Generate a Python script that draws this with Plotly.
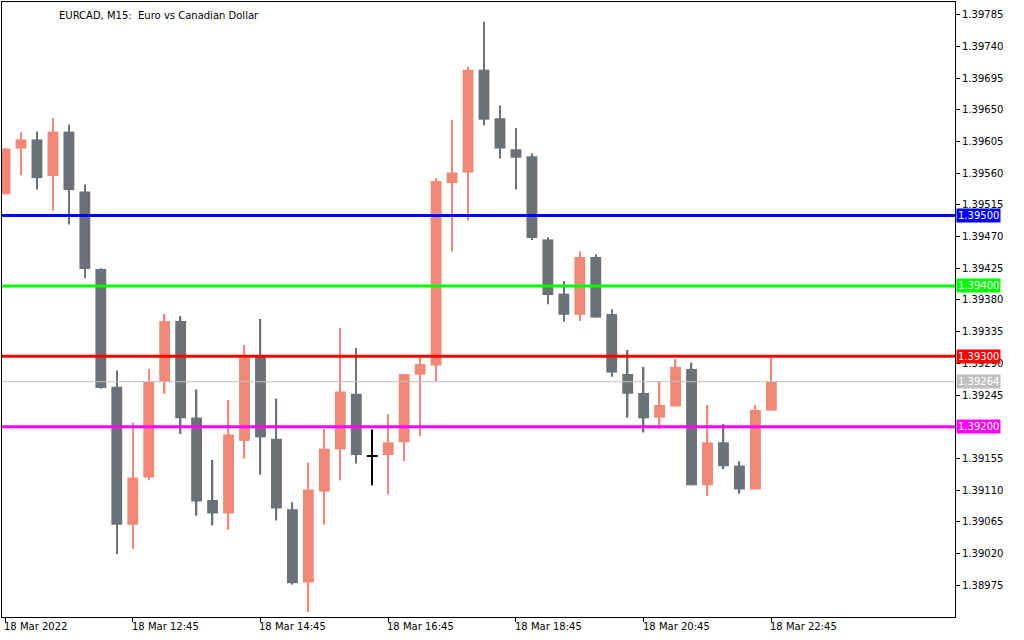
import plotly.graph_objects as go

# EURCAD M15, 18 Mar 2022, 10:45 .. 22:45
opens = [1.39530, 1.39595, 1.39608, 1.39556, 1.39619, 1.39534, 1.39424, 1.39257, 1.39061, 1.39128,
         1.39264, 1.39350, 1.39213, 1.39096, 1.39077, 1.39180, 1.39301, 1.39183, 1.39083, 1.38979,
         1.39108, 1.39168, 1.39247, 1.39158, 1.39160, 1.39178, 1.39274, 1.39287, 1.39546, 1.39561,
         1.39707, 1.39638, 1.39594, 1.39584, 1.39466, 1.39389, 1.39359, 1.39441, 1.39360, 1.39275,
         1.39248, 1.39213, 1.39229, 1.39282, 1.39117, 1.39178, 1.39145, 1.39111, 1.39223]
highs = [1.39595, 1.39618, 1.39619, 1.39638, 1.39629, 1.39544, 1.39425, 1.39280, 1.39206, 1.39282,
         1.39360, 1.39357, 1.39253, 1.39153, 1.39238, 1.39316, 1.39353, 1.39240, 1.39093, 1.39149,
         1.39197, 1.39340, 1.39312, 1.39196, 1.39218, 1.39275, 1.39302, 1.39553, 1.39636, 1.39711,
         1.39775, 1.39656, 1.39624, 1.39588, 1.39469, 1.39407, 1.39449, 1.39445, 1.39367, 1.39309,
         1.39285, 1.39265, 1.39296, 1.39291, 1.39231, 1.39204, 1.39151, 1.39231, 1.39298]
lows = [1.39530, 1.39557, 1.39537, 1.39507, 1.39487, 1.39411, 1.39254, 1.39019, 1.39027, 1.39124,
        1.39247, 1.39190, 1.39074, 1.39060, 1.39054, 1.39155, 1.39132, 1.39067, 1.38976, 1.38937,
        1.39061, 1.39124, 1.39148, 1.39117, 1.39104, 1.39151, 1.39187, 1.39264, 1.39449, 1.39493,
        1.39628, 1.39581, 1.39537, 1.39465, 1.39374, 1.39349, 1.39350, 1.39355, 1.39271, 1.39213,
        1.39192, 1.39197, 1.39229, 1.39117, 1.39102, 1.39140, 1.39105, 1.39111, 1.39223]
closes = [1.39595, 1.39608, 1.39553, 1.39619, 1.39536, 1.39424, 1.39255, 1.39061, 1.39128, 1.39264,
          1.39350, 1.39212, 1.39094, 1.39077, 1.39189, 1.39298, 1.39185, 1.39084, 1.38978, 1.39111,
          1.39169, 1.39250, 1.39160, 1.39158, 1.39178, 1.39275, 1.39289, 1.39549, 1.39561, 1.39707,
          1.39636, 1.39595, 1.39582, 1.39468, 1.39387, 1.39359, 1.39441, 1.39355, 1.39277, 1.39247,
          1.39212, 1.39231, 1.39285, 1.39117, 1.39178, 1.39144, 1.39111, 1.39224, 1.39264]

level_prices = [1.39500, 1.39400, 1.39300, 1.39200]
level_colors = ["#0000FF", "#00FF00", "#FF0000", "#FF00FF"]
last_price = 1.39264

ytick_vals = [1.39785, 1.39740, 1.39695, 1.39650, 1.39605, 1.39560, 1.39515, 1.39470, 1.39425,
              1.39380, 1.39335, 1.39290, 1.39245, 1.39155, 1.39110, 1.39065, 1.39020, 1.38975]
xtick_idx = [0, 8, 16, 24, 32, 40, 48]
xtick_text = ["18 Mar 2022", "18 Mar 12:45", "18 Mar 14:45", "18 Mar 16:45",
              "18 Mar 18:45", "18 Mar 20:45", "18 Mar 22:45"]

UP = "#EE8877"
DOWN = "#6B7178"
FONT = "DejaVu Sans"

idx = list(range(len(opens)))
colors = []
for o, c in zip(opens, closes):
    if abs(c - o) < 0.00002:
        colors.append("#000000")
    elif c > o:
        colors.append(UP)
    else:
        colors.append(DOWN)

body_base = [min(o, c) for o, c in zip(opens, closes)]
body_h = [max(abs(c - o), 0.000012) for o, c in zip(opens, closes)]
wick_h = [h - l for h, l in zip(highs, lows)]

fig = go.Figure()
fig.add_trace(go.Bar(x=idx, y=wick_h, base=lows, width=0.09, marker_color=colors,
                     marker_line_width=0, hoverinfo="skip"))
fig.add_trace(go.Bar(x=idx, y=body_h, base=body_base, width=0.68, marker_color=colors,
                     marker_line_width=0,
                     customdata=list(zip(opens, highs, lows, closes)),
                     hovertemplate="O %{customdata[0]:.5f}<br>H %{customdata[1]:.5f}<br>"
                                   "L %{customdata[2]:.5f}<br>C %{customdata[3]:.5f}<extra></extra>"))

# horizontal levels
for p, col in zip(level_prices, level_colors):
    fig.add_hline(y=p, line_color=col, line_width=3)
fig.add_hline(y=last_price, line_color="#C0C0C0", line_width=1)

annotations = []
for p, col in zip(level_prices + [last_price], level_colors + ["#C0C0C0"]):
    annotations.append(dict(x=1, xref="paper", y=p, yref="y", text="%.5f" % p,
                            xanchor="left", yanchor="middle", showarrow=False,
                            bgcolor=col, font=dict(color="white", size=10, family=FONT),
                            borderpad=1, xshift=1))
for i, t in zip(xtick_idx, xtick_text):
    annotations.append(dict(x=i, xref="x", y=0, yref="paper", text=t, xanchor="left",
                            yanchor="top", showarrow=False, yshift=-2, xshift=-3,
                            font=dict(color="black", size=10, family=FONT)))
annotations.append(dict(x=0.058, xref="paper", y=1, yref="paper", text="EURCAD, M15:  Euro vs Canadian Dollar",
                        xanchor="left", yanchor="top", showarrow=False, yshift=-6,
                        font=dict(color="black", size=10, family=FONT)))

fig.update_layout(
    width=1024, height=640,
    margin=dict(l=2, r=69, t=2, b=23, autoexpand=False),
    barmode="overlay",
    showlegend=False,
    plot_bgcolor="white",
    paper_bgcolor="white",
    annotations=annotations,
    xaxis=dict(range=[-0.19, 59.5], tickvals=xtick_idx, ticktext=[""] * len(xtick_idx),
               ticks="outside", ticklen=4, tickcolor="black", showgrid=False, zeroline=False,
               showline=True, linecolor="black", mirror=True, fixedrange=True, automargin=False),
    yaxis=dict(range=[1.38930, 1.39803], side="right", tickvals=ytick_vals,
               ticktext=["%.5f" % v for v in ytick_vals], ticks="outside", ticklen=4,
               tickcolor="black", showgrid=False, zeroline=False, showline=True,
               linecolor="black", mirror=True, automargin=False,
               tickfont=dict(color="black", size=10, family=FONT)),
)

# drop the page's default body margin so the figure sits at the window's corner
fig.write_html("out.html", config={"displayModeBar": False},
               post_script="document.body.style.margin='0';")
